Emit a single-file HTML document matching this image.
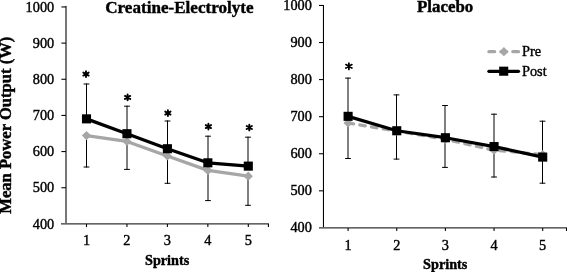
<!DOCTYPE html>
<html><head><meta charset="utf-8"><title>Chart</title>
<style>
html,body{margin:0;padding:0;background:#fff;overflow:hidden}
svg{display:block;will-change:transform;transform:translateZ(0)}
text{font-family:"Liberation Serif",serif;fill:#000;stroke:#000;stroke-width:0.4px}
.tk{font-size:14.3px}
.ti{font-size:17.1px;font-weight:bold}
.at{font-size:14.2px;font-weight:bold}
.yt{font-size:16.6px;font-weight:bold}
.st{font-size:18px;font-weight:bold;stroke-width:0.35px}
.st2{font-size:19.5px;stroke-width:0.5px}
</style></head><body>
<svg width="567" height="272" viewBox="0 0 567 272">
<rect width="567" height="272" fill="#fff"/>
<rect x="65" y="6" width="1" height="218" fill="#777" shape-rendering="crispEdges"/>
<rect x="66" y="6" width="1" height="218" fill="#777" shape-rendering="crispEdges"/>
<rect x="61" y="223" width="208" height="1" fill="#666" shape-rendering="crispEdges"/>
<rect x="61" y="224" width="208" height="1" fill="#999" shape-rendering="crispEdges"/>
<text x="54.2" y="228.65" text-anchor="end" class="tk">400</text>
<path d="M61.4 187.74 H66.0" stroke="#000" stroke-width="1.07"/>
<text x="54.2" y="192.49" text-anchor="end" class="tk">500</text>
<path d="M61.4 151.58 H66.0" stroke="#000" stroke-width="1.07"/>
<text x="54.2" y="156.33" text-anchor="end" class="tk">600</text>
<path d="M61.4 115.42 H66.0" stroke="#000" stroke-width="1.07"/>
<text x="54.2" y="120.17" text-anchor="end" class="tk">700</text>
<path d="M61.4 79.27 H66.0" stroke="#000" stroke-width="1.07"/>
<text x="54.2" y="84.02" text-anchor="end" class="tk">800</text>
<path d="M61.4 43.11 H66.0" stroke="#000" stroke-width="1.07"/>
<text x="54.2" y="47.86" text-anchor="end" class="tk">900</text>
<path d="M61.4 6.95 H66.0" stroke="#000" stroke-width="1.07"/>
<text x="54.2" y="11.70" text-anchor="end" class="tk">1000</text>
<path d="M86.50 223.90 V227.10" stroke="#000" stroke-width="1.07"/>
<text x="86.50" y="245.10" text-anchor="middle" class="tk">1</text>
<path d="M126.95 223.90 V227.10" stroke="#000" stroke-width="1.07"/>
<text x="126.95" y="245.10" text-anchor="middle" class="tk">2</text>
<path d="M167.40 223.90 V227.10" stroke="#000" stroke-width="1.07"/>
<text x="167.40" y="245.10" text-anchor="middle" class="tk">3</text>
<path d="M207.85 223.90 V227.10" stroke="#000" stroke-width="1.07"/>
<text x="207.85" y="245.10" text-anchor="middle" class="tk">4</text>
<path d="M248.30 223.90 V227.10" stroke="#000" stroke-width="1.07"/>
<text x="248.30" y="245.10" text-anchor="middle" class="tk">5</text>
<path d="M268.40 223.90 V227.10" stroke="#000" stroke-width="1.07"/>
<path d="M86.50 118.86 V83.50 M83.60 84.00 H89.40" stroke="#000" stroke-width="1" fill="none"/>
<path d="M86.50 135.53 V167.50 M83.60 167.00 H89.40" stroke="#000" stroke-width="1" fill="none"/>
<path d="M127.00 133.72 V105.70 M124.10 106.20 H129.90" stroke="#000" stroke-width="1" fill="none"/>
<path d="M127.00 141.46 V169.90 M124.10 169.40 H129.90" stroke="#000" stroke-width="1" fill="none"/>
<path d="M167.50 148.73 V120.50 M164.60 121.00 H170.40" stroke="#000" stroke-width="1" fill="none"/>
<path d="M167.50 155.92 V183.80 M164.60 183.30 H170.40" stroke="#000" stroke-width="1" fill="none"/>
<path d="M208.00 162.83 V135.70 M205.10 136.20 H210.90" stroke="#000" stroke-width="1" fill="none"/>
<path d="M208.00 170.39 V201.10 M205.10 200.60 H210.90" stroke="#000" stroke-width="1" fill="none"/>
<path d="M248.00 166.12 V136.70 M245.10 137.20 H250.90" stroke="#000" stroke-width="1" fill="none"/>
<path d="M248.00 176.13 V205.80 M245.10 205.30 H250.90" stroke="#000" stroke-width="1" fill="none"/>
<polyline points="86.50,135.53 126.95,141.46 167.40,155.92 207.85,170.39 248.30,176.13" fill="none" stroke="#a6a6a6" stroke-width="3.25" stroke-linejoin="round" stroke-linecap="round"/>
<path d="M81.90 135.53 L86.50 130.93 L91.10 135.53 L86.50 140.13 Z" fill="#a6a6a6"/>
<path d="M122.35 141.46 L126.95 136.86 L131.55 141.46 L126.95 146.06 Z" fill="#a6a6a6"/>
<path d="M162.80 155.92 L167.40 151.32 L172.00 155.92 L167.40 160.52 Z" fill="#a6a6a6"/>
<path d="M203.25 170.39 L207.85 165.79 L212.45 170.39 L207.85 174.99 Z" fill="#a6a6a6"/>
<path d="M243.70 176.13 L248.30 171.53 L252.90 176.13 L248.30 180.73 Z" fill="#a6a6a6"/>
<polyline points="86.50,118.86 126.95,133.72 167.40,148.73 207.85,162.83 248.30,166.12" fill="none" stroke="#000" stroke-width="3.25" stroke-linejoin="round" stroke-linecap="round"/>
<rect x="81.95" y="114.31" width="9.1" height="9.1" fill="#000"/>
<rect x="122.40" y="129.17" width="9.1" height="9.1" fill="#000"/>
<rect x="162.85" y="144.18" width="9.1" height="9.1" fill="#000"/>
<rect x="203.30" y="158.28" width="9.1" height="9.1" fill="#000"/>
<rect x="243.75" y="161.57" width="9.1" height="9.1" fill="#000"/>
<path d="M86.00 71.20 V77.00 M83.36 72.57 L88.64 75.62 M83.36 75.62 L88.64 72.57" stroke="#000" stroke-width="1.9" stroke-linecap="round" fill="none"/><circle cx="86.00" cy="74.10" r="1.3" fill="#000"/>
<path d="M127.60 94.50 V100.30 M124.96 95.88 L130.24 98.93 M124.96 98.93 L130.24 95.88" stroke="#000" stroke-width="1.9" stroke-linecap="round" fill="none"/><circle cx="127.60" cy="97.40" r="1.3" fill="#000"/>
<path d="M167.90 110.20 V116.00 M165.26 111.57 L170.54 114.62 M165.26 114.62 L170.54 111.57" stroke="#000" stroke-width="1.9" stroke-linecap="round" fill="none"/><circle cx="167.90" cy="113.10" r="1.3" fill="#000"/>
<path d="M208.40 123.70 V129.50 M205.76 125.07 L211.04 128.12 M205.76 128.12 L211.04 125.07" stroke="#000" stroke-width="1.9" stroke-linecap="round" fill="none"/><circle cx="208.40" cy="126.60" r="1.3" fill="#000"/>
<path d="M249.30 124.60 V130.40 M246.66 125.97 L251.94 129.03 M246.66 129.03 L251.94 125.97" stroke="#000" stroke-width="1.9" stroke-linecap="round" fill="none"/><circle cx="249.30" cy="127.50" r="1.3" fill="#000"/>
<text x="179.4" y="13" text-anchor="middle" class="ti">Creatine-Electrolyte</text>
<text x="167.1" y="265.0" text-anchor="middle" class="at">Sprints</text>
<text transform="translate(11.3,125.2) rotate(-90)" text-anchor="middle" class="yt">Mean Power Output (W)</text>
<rect x="322" y="5" width="1" height="223" fill="#eee" shape-rendering="crispEdges"/>
<rect x="323" y="5" width="1" height="223" fill="#000" shape-rendering="crispEdges"/>
<rect x="319" y="227" width="248" height="1" fill="#666" shape-rendering="crispEdges"/>
<rect x="319" y="228" width="248" height="1" fill="#999" shape-rendering="crispEdges"/>
<text x="311.9" y="232.30" text-anchor="end" class="tk">400</text>
<path d="M319.0 190.82 H323.5" stroke="#000" stroke-width="1.07"/>
<text x="311.9" y="195.22" text-anchor="end" class="tk">500</text>
<path d="M319.0 153.75 H323.5" stroke="#000" stroke-width="1.07"/>
<text x="311.9" y="158.15" text-anchor="end" class="tk">600</text>
<path d="M319.0 116.68 H323.5" stroke="#000" stroke-width="1.07"/>
<text x="311.9" y="121.08" text-anchor="end" class="tk">700</text>
<path d="M319.0 79.60 H323.5" stroke="#000" stroke-width="1.07"/>
<text x="311.9" y="84.00" text-anchor="end" class="tk">800</text>
<path d="M319.0 42.52 H323.5" stroke="#000" stroke-width="1.07"/>
<text x="311.9" y="46.92" text-anchor="end" class="tk">900</text>
<path d="M319.0 5.45 H323.5" stroke="#000" stroke-width="1.07"/>
<text x="311.9" y="9.85" text-anchor="end" class="tk">1000</text>
<path d="M348.10 227.90 V231.10" stroke="#000" stroke-width="1.07"/>
<text x="348.10" y="249.60" text-anchor="middle" class="tk">1</text>
<path d="M396.75 227.90 V231.10" stroke="#000" stroke-width="1.07"/>
<text x="396.75" y="249.60" text-anchor="middle" class="tk">2</text>
<path d="M445.40 227.90 V231.10" stroke="#000" stroke-width="1.07"/>
<text x="445.40" y="249.60" text-anchor="middle" class="tk">3</text>
<path d="M494.05 227.90 V231.10" stroke="#000" stroke-width="1.07"/>
<text x="494.05" y="249.60" text-anchor="middle" class="tk">4</text>
<path d="M542.70 227.90 V231.10" stroke="#000" stroke-width="1.07"/>
<text x="542.70" y="249.60" text-anchor="middle" class="tk">5</text>
<path d="M566.50 227.90 V231.10" stroke="#000" stroke-width="1.07"/>
<path d="M348.00 116.34 V77.60 M345.10 78.10 H350.90" stroke="#000" stroke-width="1" fill="none"/>
<path d="M348.00 122.98 V159.00 M345.10 158.50 H350.90" stroke="#000" stroke-width="1" fill="none"/>
<path d="M396.50 130.76 V94.40 M393.60 94.90 H399.40" stroke="#000" stroke-width="1" fill="none"/>
<path d="M396.50 131.13 V159.60 M393.60 159.10 H399.40" stroke="#000" stroke-width="1" fill="none"/>
<path d="M445.00 137.73 V105.00 M442.10 105.50 H447.90" stroke="#000" stroke-width="1" fill="none"/>
<path d="M445.00 139.29 V167.90 M442.10 167.40 H447.90" stroke="#000" stroke-width="1" fill="none"/>
<path d="M494.00 146.56 V113.70 M491.10 114.20 H496.90" stroke="#000" stroke-width="1" fill="none"/>
<path d="M494.00 150.23 V177.50 M491.10 177.00 H496.90" stroke="#000" stroke-width="1" fill="none"/>
<path d="M542.50 157.09 V120.70 M539.60 121.20 H545.40" stroke="#000" stroke-width="1" fill="none"/>
<path d="M542.50 154.49 V183.70 M539.60 183.20 H545.40" stroke="#000" stroke-width="1" fill="none"/>
<polyline points="348.10,122.98 396.75,131.13 445.40,139.29 494.05,150.23 542.70,154.49" fill="none" stroke="#a6a6a6" stroke-width="3.25" stroke-linejoin="round" stroke-dasharray="5.5 6.35" stroke-dashoffset="0" stroke-linecap="round"/>
<path d="M343.50 122.98 L348.10 118.38 L352.70 122.98 L348.10 127.58 Z" fill="#a6a6a6"/>
<path d="M392.15 131.13 L396.75 126.53 L401.35 131.13 L396.75 135.73 Z" fill="#a6a6a6"/>
<path d="M440.80 139.29 L445.40 134.69 L450.00 139.29 L445.40 143.89 Z" fill="#a6a6a6"/>
<path d="M489.45 150.23 L494.05 145.63 L498.65 150.23 L494.05 154.83 Z" fill="#a6a6a6"/>
<path d="M538.10 154.49 L542.70 149.89 L547.30 154.49 L542.70 159.09 Z" fill="#a6a6a6"/>
<polyline points="348.10,116.34 396.75,130.76 445.40,137.73 494.05,146.56 542.70,157.09" fill="none" stroke="#000" stroke-width="3.25" stroke-linejoin="round" stroke-linecap="round"/>
<rect x="343.55" y="111.79" width="9.1" height="9.1" fill="#000"/>
<rect x="392.20" y="126.21" width="9.1" height="9.1" fill="#000"/>
<rect x="440.85" y="133.18" width="9.1" height="9.1" fill="#000"/>
<rect x="489.50" y="142.01" width="9.1" height="9.1" fill="#000"/>
<rect x="538.15" y="152.54" width="9.1" height="9.1" fill="#000"/>
<path d="M348.90 63.20 V69.40 M345.91 64.58 L351.89 68.02 M345.91 68.02 L351.89 64.58" stroke="#000" stroke-width="1.75" stroke-linecap="round" fill="none"/><circle cx="348.90" cy="66.30" r="1.3" fill="#000"/>
<text x="445.1" y="11.9" text-anchor="middle" class="ti" style="font-size:16.9px">Placebo</text>
<text x="445.2" y="268.9" text-anchor="middle" class="at">Sprints</text>
<path d="M488.9 51.7 H494.6 M500.9 51.7 H506.6 M512.8 51.7 H518.5" stroke="#a6a6a6" stroke-width="3.25" stroke-linecap="round"/>
<path d="M499.29999999999995 51.7 L503.9 47.1 L508.5 51.7 L503.9 56.300000000000004 Z" fill="#a6a6a6"/>
<text x="522" y="55.8" class="tk">Pre</text>
<path d="M488.9 71.3 H518.5" stroke="#000" stroke-width="3.25" stroke-linecap="round"/>
<rect x="499.15" y="66.65" width="9.1" height="9.1" fill="#000"/>
<text x="522" y="75.5" class="tk">Post</text>
</svg>
</body></html>
